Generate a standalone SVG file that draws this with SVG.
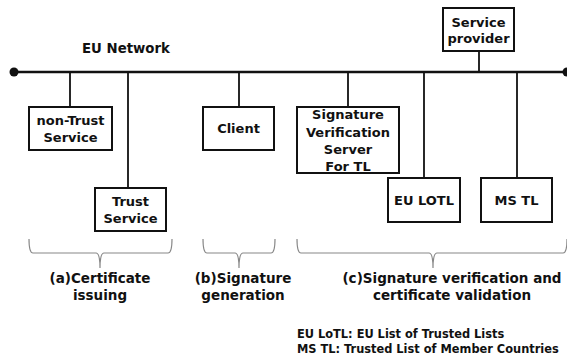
<svg xmlns="http://www.w3.org/2000/svg" width="567" height="357" viewBox="0 0 567 357">
  <style>
    text { font-family: "DejaVu Sans", Verdana, sans-serif; font-weight: bold; fill: #111; }
    .lbl { font-size: 13px; text-anchor: middle; }
    .cap { font-size: 13.5px; text-anchor: middle; }
    .note { font-size: 11.4px; }
    .box { fill: #fff; stroke: #111; stroke-width: 2; }
    .bus { stroke: #111; stroke-width: 2.5; fill: none; }
    .wire { stroke: #111; stroke-width: 1.8; fill: none; }
    .brace { stroke: #888; stroke-width: 1.2; fill: none; }
  </style>

  <!-- network bus and stubs -->
  <g id="connectors">
    <line class="bus" x1="14" y1="72" x2="567" y2="72"/>
    <circle cx="14" cy="72" r="4.5" fill="#111"/>
    <circle cx="567" cy="72" r="4.5" fill="#111"/>
    <line class="wire" x1="70" y1="72" x2="70" y2="107"/>
    <line class="wire" x1="128" y1="72" x2="128" y2="188"/>
    <line class="wire" x1="239" y1="72" x2="239" y2="107"/>
    <line class="wire" x1="348" y1="72" x2="348" y2="107"/>
    <line class="wire" x1="424" y1="72" x2="424" y2="178"/>
    <line class="wire" x1="479" y1="51" x2="479" y2="72"/>
    <line class="wire" x1="517" y1="72" x2="517" y2="178"/>
  </g>

  <text id="network-label" x="82" y="53" style="font-size:13.3px">EU Network</text>

  <g id="non-trust">
    <rect class="box" x="29" y="107" width="83" height="43"/>
    <text class="lbl" x="70.5" y="125">non-Trust</text>
    <text class="lbl" x="70.5" y="142">Service</text>
  </g>

  <g id="trust">
    <rect class="box" x="95" y="188" width="71" height="43"/>
    <text class="lbl" x="130.5" y="206">Trust</text>
    <text class="lbl" x="130.5" y="223">Service</text>
  </g>

  <g id="client">
    <rect class="box" x="203" y="107" width="71" height="43"/>
    <text class="lbl" x="238.5" y="133">Client</text>
  </g>

  <g id="sig-server">
    <rect class="box" x="297" y="107" width="102" height="66"/>
    <text class="lbl" x="348" y="119">Signature</text>
    <text class="lbl" x="348" y="137">Verification</text>
    <text class="lbl" x="348" y="154">Server</text>
    <text class="lbl" x="348" y="171">For TL</text>
  </g>

  <g id="service-provider">
    <rect class="box" x="443" y="8" width="71" height="43"/>
    <text class="lbl" x="478.5" y="27">Service</text>
    <text class="lbl" x="478.5" y="43">provider</text>
  </g>

  <g id="eu-lotl">
    <rect class="box" x="388" y="178" width="72" height="44"/>
    <text class="lbl" x="424" y="205">EU LOTL</text>
  </g>

  <g id="ms-tl">
    <rect class="box" x="481" y="178" width="71" height="44"/>
    <text class="lbl" x="516.5" y="205">MS TL</text>
  </g>

  <!-- phase braces -->
  <g id="braces">
    <path class="brace" d="M29,239 Q29,253 33,253 L96,253 Q100,253 100,268 Q100,253 104,253 L168,253 Q172,253 172,239"/>
    <path class="brace" d="M203,239 Q203,253 207,253 L235,253 Q239,253 239,268 Q239,253 243,253 L271,253 Q275,253 275,239"/>
    <path class="brace" d="M297,239 Q297,253 301,253 L429,253 Q433,253 433,268 Q433,253 437,253 L563,253 Q567,253 567,239"/>
  </g>

  <g id="phase-labels">
    <text class="cap" x="100" y="283">(a)Certificate</text>
    <text class="cap" x="100" y="300">issuing</text>
    <text class="cap" x="243" y="283">(b)Signature</text>
    <text class="cap" x="243" y="300">generation</text>
    <text class="cap" x="452" y="283">(c)Signature verification and</text>
    <text class="cap" x="452" y="300">certificate validation</text>
  </g>

  <g id="legend">
    <text class="note" x="297" y="338">EU LoTL: EU List of Trusted Lists</text>
    <text class="note" x="297" y="353">MS TL: Trusted List of Member Countries</text>
  </g>
</svg>
